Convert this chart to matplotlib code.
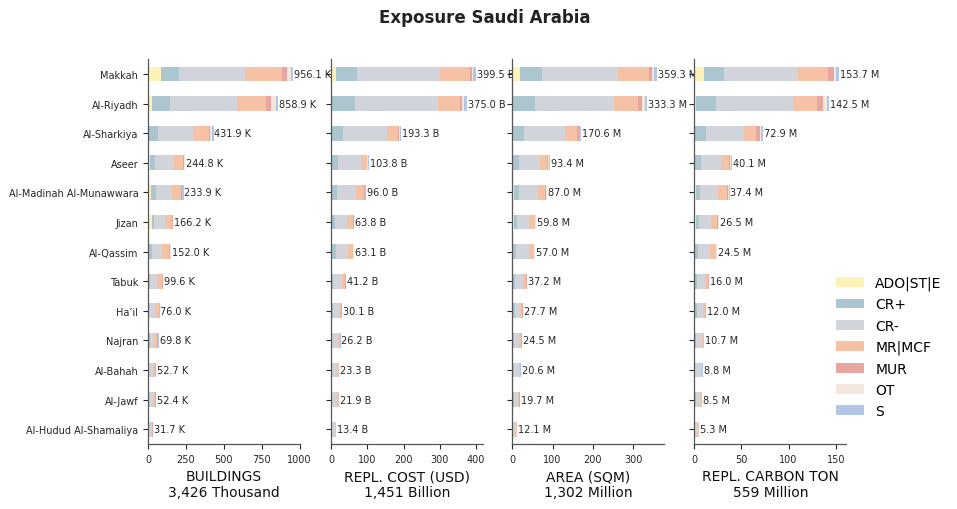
import matplotlib
matplotlib.use("Agg")
import matplotlib.pyplot as plt
import numpy as np
from matplotlib.patches import Patch

regions = ["Makkah", "Al-Riyadh", "Al-Sharkiya", "Aseer", "Al-Madinah Al-Munawwara",
           "Jizan", "Al-Qassim", "Tabuk", "Ha\u2019il", "Najran", "Al-Bahah", "Al-Jawf",
           "Al-Hudud Al-Shamaliya"]
classes = ["ADO|ST|E", "CR+", "CR-", "MR|MCF", "MUR", "OT", "S"]
colors = ["#fdf3b9", "#abc6cf", "#d1d4db", "#f5c2a5", "#e8a6a0", "#f3e7dc", "#b3c6e7"]

# each row: ADO|ST|E, CR+, CR-, MR|MCF, MUR, OT, S
buildings_k = [
    [87.0, 120.0, 431.1, 247.0, 31.0, 27.0, 13.0],
    [27.0, 120.0, 439.9, 193.0, 33.0, 33.0, 13.0],
    [2.0, 66.0, 231.0, 100.0, 12.0, 8.0, 12.9],
    [10.0, 33.0, 125.0, 60.0, 12.0, 2.0, 2.8],
    [20.0, 34.0, 102.0, 62.0, 7.0, 2.0, 6.9],
    [28.0, 14.0, 72.0, 46.0, 4.0, 1.0, 1.2],
    [2.0, 22.0, 70.0, 46.0, 8.0, 2.0, 2.0],
    [2.0, 8.0, 52.0, 30.0, 5.0, 1.0, 1.6],
    [1.0, 8.0, 40.0, 22.0, 3.0, 1.0, 1.0],
    [2.0, 12.0, 28.0, 20.0, 5.0, 1.8, 1.0],
    [1.0, 4.0, 30.0, 14.0, 2.0, 1.0, 0.7],
    [0.5, 8.0, 26.0, 14.0, 3.0, 0.5, 0.4],
    [0.5, 3.0, 14.0, 11.0, 2.0, 0.7, 0.5],
]
cost_b = [
    [12.7, 60.0, 228.4, 82.0, 5.5, 2.7, 8.2],
    [2.0, 63.0, 231.0, 60.0, 5.5, 5.5, 8.0],
    [0.0, 34.0, 120.3, 30.0, 3.0, 3.0, 3.0],
    [0.5, 20.0, 61.0, 16.5, 2.5, 1.0, 2.3],
    [3.0, 14.0, 53.0, 22.0, 1.5, 0.5, 2.0],
    [3.0, 8.0, 34.0, 15.0, 2.0, 1.0, 0.8],
    [0.5, 12.0, 33.0, 14.0, 1.5, 1.0, 1.1],
    [0.5, 6.0, 23.0, 8.5, 2.0, 0.5, 0.7],
    [0.3, 4.0, 16.5, 8.0, 0.6, 0.4, 0.3],
    [0.5, 3.5, 14.5, 6.0, 0.8, 0.5, 0.4],
    [0.2, 2.5, 14.5, 4.8, 0.6, 0.3, 0.4],
    [0.2, 3.5, 11.5, 5.5, 0.6, 0.3, 0.3],
    [0.1, 1.0, 8.5, 3.0, 0.4, 0.2, 0.2],
]
area_m = [
    [19.0, 55.0, 187.8, 77.5, 7.5, 5.0, 7.5],
    [2.5, 55.0, 195.8, 57.5, 10.0, 7.5, 5.0],
    [0.5, 29.0, 101.0, 30.0, 5.0, 1.0, 4.1],
    [1.7, 15.0, 52.5, 17.5, 2.0, 2.5, 2.2],
    [5.0, 12.5, 46.0, 18.0, 2.5, 1.5, 1.5],
    [5.0, 7.5, 28.0, 15.5, 1.5, 1.5, 0.8],
    [2.5, 7.5, 31.0, 12.5, 1.5, 1.0, 1.0],
    [0.5, 6.5, 20.0, 7.5, 2.0, 0.3, 0.4],
    [0.3, 6.5, 13.0, 5.5, 1.5, 0.5, 0.4],
    [0.5, 4.0, 13.0, 5.0, 0.5, 1.0, 0.5],
    [0.2, 4.0, 12.5, 1.2, 0.3, 0.4, 2.0],
    [0.2, 4.0, 10.5, 2.5, 2.0, 0.3, 0.2],
    [0.1, 0.8, 8.5, 2.0, 0.3, 0.2, 0.2],
]
carbon_m = [
    [10.5, 21.0, 78.0, 32.6, 6.3, 2.1, 3.2],
    [1.4, 22.0, 81.2, 25.3, 6.3, 4.2, 2.1],
    [0.3, 11.6, 41.0, 12.6, 4.2, 1.1, 2.1],
    [0.8, 6.3, 21.5, 8.4, 1.0, 0.7, 1.4],
    [1.5, 5.0, 19.0, 9.0, 1.2, 0.9, 0.8],
    [1.5, 3.0, 13.0, 7.0, 1.0, 0.6, 0.4],
    [0.5, 3.0, 13.0, 6.0, 1.0, 0.5, 0.5],
    [0.3, 2.5, 9.0, 3.0, 0.8, 0.2, 0.2],
    [0.2, 2.5, 6.0, 2.5, 0.5, 0.1, 0.2],
    [0.3, 1.5, 6.0, 2.2, 0.3, 0.2, 0.2],
    [0.1, 1.0, 5.5, 1.6, 0.3, 0.1, 0.2],
    [0.1, 1.5, 4.5, 1.8, 0.4, 0.1, 0.1],
    [0.1, 0.5, 3.0, 1.3, 0.2, 0.1, 0.1],
]

panel_titles = ["BUILDINGS\n3,426 Thousand", "REPL. COST (USD)\n1,451 Billion",
                "AREA (SQM)\n1,302 Million", "REPL. CARBON TON\n559 Million"]
suffixes = ["K", "B", "M", "M"]
datasets = [buildings_k, cost_b, area_m, carbon_m]
xticks_list = [[0, 250, 500, 750, 1000], [0, 100, 200, 300, 400],
               [0, 100, 200, 300], [0, 50, 100, 150]]

fig = plt.figure(figsize=(9.57, 5.1), dpi=100)
lefts = [0.1547, 0.3459, 0.5353, 0.7255]
width = 0.159
bottom = 0.1275
height = 0.7545

y = np.arange(len(regions))
text_color = "#262626"
for i, data in enumerate(datasets):
    ax = fig.add_axes([lefts[i], bottom, width, height])
    arr = np.array(data)
    left = np.zeros(len(regions))
    for j, c in enumerate(classes):
        ax.barh(y, arr[:, j], left=left, height=0.5, color=colors[j], linewidth=0)
        left += arr[:, j]
    totals = arr.sum(axis=1)
    xmax = totals.max() * 1.05
    for k, t in enumerate(totals):
        ax.text(t + xmax * 0.006, y[k], f"{t:.1f} {suffixes[i]}", va="center", ha="left",
                fontsize=7, color=text_color, zorder=5, clip_on=False)
    ax.set_xlim(0, xmax)
    ax.set_ylim(len(regions) - 0.5, -0.5)
    ax.set_yticks(y)
    if i == 0:
        ax.set_yticklabels(regions, fontsize=7, color=text_color)
    else:
        ax.set_yticklabels([])
    ax.set_xticks(xticks_list[i])
    ax.tick_params(axis="x", labelsize=7, colors=text_color, length=3.5, width=0.8)
    ax.tick_params(axis="y", length=3.5, width=0.8, colors=text_color)
    for s in ["top", "right"]:
        ax.spines[s].set_visible(False)
    for s in ["left", "bottom"]:
        ax.spines[s].set_color("#555555")
        ax.spines[s].set_linewidth(0.9)
    ax.set_xlabel(panel_titles[i], fontsize=10, color="#111111", labelpad=4)

fig.suptitle("Exposure Saudi Arabia", fontsize=12, fontweight="bold", color="#222222", y=0.982, x=0.507)

handles = [Patch(facecolor=colors[j], edgecolor="none", label=classes[j]) for j in range(len(classes))]
fig.legend(handles=handles, loc="center left", bbox_to_anchor=(0.861, 0.318), frameon=False,
           fontsize=10, handlelength=2.0, handleheight=0.7, labelspacing=0.52)

fig.savefig("out.png", dpi=100)
